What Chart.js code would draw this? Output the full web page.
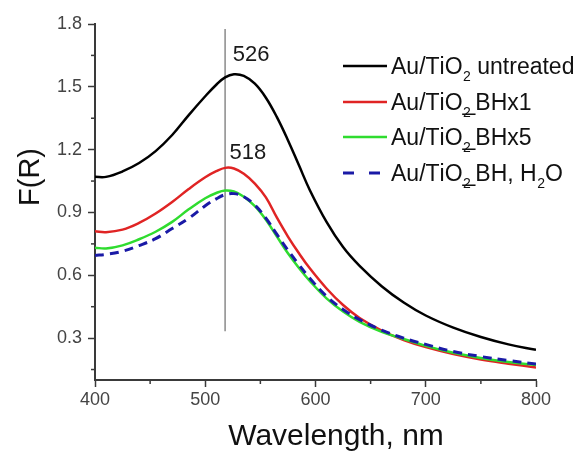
<!DOCTYPE html>
<html><head><meta charset="utf-8">
<script src="https://cdn.jsdelivr.net/npm/chart.js@4/dist/chart.umd.min.js"></script>
<style>html,body{margin:0;padding:0;background:#fff;} #wrap{width:580px;height:451px;position:relative;}</style>
</head><body><div id="wrap"><canvas id="c" width="580" height="451"></canvas></div>
<script>
// ---- data ----
const wavelengths = [400, 410, 425, 440, 455, 470, 485, 500, 510, 518, 526, 535, 545, 555, 565, 575, 585, 595, 610, 625, 640, 660, 680, 700, 725, 750, 775, 800];
const untreated   = [1.070, 1.070, 1.096, 1.136, 1.193, 1.270, 1.365, 1.455, 1.510, 1.545, 1.560, 1.552, 1.515, 1.448, 1.355, 1.245, 1.125, 1.005, 0.855, 0.735, 0.645, 0.548, 0.470, 0.408, 0.350, 0.305, 0.270, 0.244];
const bhx1        = [0.810, 0.806, 0.818, 0.850, 0.895, 0.950, 1.012, 1.068, 1.097, 1.113, 1.110, 1.085, 1.038, 0.972, 0.875, 0.785, 0.705, 0.632, 0.537, 0.458, 0.396, 0.336, 0.291, 0.257, 0.224, 0.198, 0.178, 0.160];
const bhx5        = [0.732, 0.728, 0.743, 0.772, 0.808, 0.855, 0.915, 0.968, 0.993, 1.005, 1.000, 0.975, 0.930, 0.865, 0.785, 0.705, 0.635, 0.572, 0.490, 0.427, 0.378, 0.330, 0.296, 0.263, 0.230, 0.205, 0.186, 0.171];
const bhH2O       = [0.695, 0.700, 0.715, 0.742, 0.775, 0.823, 0.872, 0.932, 0.965, 0.985, 0.990, 0.975, 0.935, 0.873, 0.795, 0.720, 0.650, 0.585, 0.500, 0.437, 0.388, 0.338, 0.300, 0.270, 0.236, 0.212, 0.193, 0.176];
const seriesLabels = ['Au/TiO₂ untreated', 'Au/TiO₂_BHx1', 'Au/TiO₂_BHx5', 'Au/TiO₂_BH, H₂O'];
const markerWavelength = [518, 518];
const markerF = [0.333, 1.776];
const peakLabels = ['526', '518'];
const peakLabelWavelength = [525, 522];
const peakLabelF = [1.652, 1.186];
const xTickValues = [400, 450, 500, 550, 600, 650, 700, 750, 800];
const xTickLabels = ['400', '', '500', '', '600', '', '700', '', '800'];
const yTickValues = [0.15, 0.3, 0.45, 0.6, 0.75, 0.9, 1.05, 1.2, 1.35, 1.5, 1.65, 1.8];
const yTickLabels = ['', '0.3', '', '0.6', '', '0.9', '', '1.2', '', '1.5', '', '1.8'];
const xTitle = 'Wavelength, nm';
const yTitle = 'F(R)';

// ---- styling ----
const FONT = "'Liberation Sans', Arial, Helvetica, sans-serif";
const COLORS = ['#000000', '#e02424', '#2fdc2f', '#1a1aa6'];
const AXIS = '#3a3a3a';
Chart.defaults.font.family = FONT;

function pts(ys) { return wavelengths.map((w, i) => ({x: w, y: ys[i]})); }

const lineBase = {pointRadius: 0, borderWidth: 2.5, fill: false, tension: 0.4};

const datasets = [
  Object.assign({label: seriesLabels[3], data: pts(bhH2O), borderColor: COLORS[3], borderDash: [9, 6]}, lineBase, {borderWidth: 3}),
  Object.assign({label: seriesLabels[2], data: pts(bhx5), borderColor: COLORS[2]}, lineBase),
  Object.assign({label: seriesLabels[1], data: pts(bhx1), borderColor: COLORS[1]}, lineBase),
  Object.assign({label: seriesLabels[0], data: pts(untreated), borderColor: COLORS[0]}, lineBase),
  {label: 'marker', data: markerWavelength.map((w, i) => ({x: w, y: markerF[i]})), borderColor: '#8a8a8a', borderWidth: 1.5, pointRadius: 0, fill: false}
];

function drawRich(ctx, text, x, y, size) {
  const subMap = {'₀':'0','₁':'1','₂':'2','₃':'3','₄':'4','₅':'5','₆':'6','₇':'7','₈':'8','₉':'9'};
  let cx = x;
  const chars = Array.from(text);
  for (let i = 0; i < chars.length; i++) {
    const ch = chars[i];
    if (subMap[ch]) {
      ctx.font = Math.round(size * 0.6) + 'px ' + FONT;
      ctx.fillText(subMap[ch], cx + 0.5, y + size * 0.3);
      const w = ctx.measureText(subMap[ch]).width;
      if (chars[i + 1] !== '_') cx += w + 0.5;
    } else {
      ctx.font = size + 'px ' + FONT;
      ctx.fillText(ch, cx, y);
      cx += ctx.measureText(ch).width;
    }
  }
}

const decorPlugin = {
  id: 'decor',
  afterDraw(chart) {
    const ctx = chart.ctx;
    const xs = chart.scales.x, ys = chart.scales.y;
    const area = chart.chartArea;
    ctx.save();
    ctx.strokeStyle = AXIS; ctx.lineWidth = 1.5;
    xTickValues.forEach((v, i) => {
      if (xTickLabels[i] !== '') return;
      const px = xs.getPixelForValue(v);
      ctx.beginPath(); ctx.moveTo(px, area.bottom); ctx.lineTo(px, area.bottom + 4); ctx.stroke();
    });
    yTickValues.forEach((v, i) => {
      if (yTickLabels[i] !== '') return;
      const py = ys.getPixelForValue(v);
      ctx.beginPath(); ctx.moveTo(area.left - 4, py); ctx.lineTo(area.left, py); ctx.stroke();
    });
    ctx.fillStyle = '#1a1a1a';
    ctx.font = '22px ' + FONT;
    ctx.textAlign = 'left'; ctx.textBaseline = 'middle';
    peakLabels.forEach((t, i) => {
      ctx.fillText(t, xs.getPixelForValue(peakLabelWavelength[i]), ys.getPixelForValue(peakLabelF[i]));
    });
    ctx.fillStyle = '#111';
    ctx.font = '30px ' + FONT;
    ctx.textAlign = 'center'; ctx.textBaseline = 'alphabetic';
    ctx.fillText(xTitle, 336, 445);
    ctx.save();
    ctx.translate(39, 177);
    ctx.rotate(-Math.PI / 2);
    ctx.font = '29px ' + FONT;
    ctx.fillText(yTitle, 0, 0);
    ctx.restore();
    const rowsY = [66, 102, 137, 173];
    ctx.textAlign = 'left'; ctx.textBaseline = 'alphabetic';
    seriesLabels.forEach((lab, i) => {
      const y = rowsY[i];
      ctx.strokeStyle = COLORS[i];
      ctx.lineWidth = i === 3 ? 3 : 2.5;
      ctx.setLineDash(i === 3 ? [11, 15] : []);
      ctx.beginPath(); ctx.moveTo(343, y); ctx.lineTo(i === 3 ? 381 : 387, y); ctx.stroke();
      ctx.setLineDash([]);
      ctx.fillStyle = '#111';
      drawRich(ctx, lab, 391, y + 8, 23);
    });
    ctx.restore();
  }
};

new Chart(document.getElementById('c'), {
  type: 'line',
  data: {datasets},
  options: {
    responsive: false,
    animation: false,
    layout: {padding: {left: 0, right: 44, top: 24, bottom: 0}},
    plugins: {legend: {display: false}, tooltip: {enabled: false}},
    scales: {
      x: {
        type: 'linear', min: 400, max: 800,
        afterBuildTicks: s => { s.ticks = xTickValues.map(v => ({value: v})); },
        afterFit: s => { s.height = 71; },
        ticks: {autoSkip: false, maxRotation: 0, color: '#444', font: {size: 18}, padding: 2,
          callback: (v) => { const i = xTickValues.indexOf(v); return i >= 0 ? xTickLabels[i] : ''; }},
        grid: {drawOnChartArea: false, drawTicks: true, tickLength: 7, tickWidth: 1.5,
          tickColor: c => (c.tick && xTickLabels[xTickValues.indexOf(c.tick.value)] !== '') ? AXIS : 'rgba(0,0,0,0)'},
        border: {display: true, color: AXIS, width: 2}
      },
      y: {
        type: 'linear', min: 0.1, max: 1.8,
        afterBuildTicks: s => { s.ticks = yTickValues.map(v => ({value: v})); },
        afterFit: s => { s.width = 95; },
        ticks: {autoSkip: false, color: '#444', font: {size: 18}, padding: 6,
          callback: (v) => { const i = yTickValues.findIndex(t => Math.abs(t - v) < 1e-6); return i >= 0 ? yTickLabels[i] : ''; }},
        grid: {drawOnChartArea: false, drawTicks: true, tickLength: 7, tickWidth: 1.5,
          tickColor: c => { if (!c.tick) return 'rgba(0,0,0,0)'; const i = yTickValues.findIndex(t => Math.abs(t - c.tick.value) < 1e-6); return (i >= 0 && yTickLabels[i] !== '') ? AXIS : 'rgba(0,0,0,0)'; }},
        border: {display: true, color: AXIS, width: 2}
      }
    }
  },
  plugins: [decorPlugin]
});
</script>
</body></html>
